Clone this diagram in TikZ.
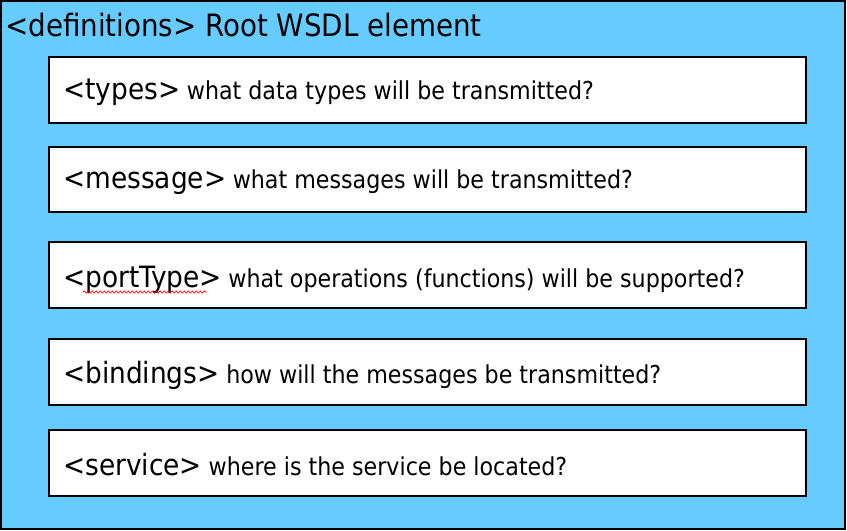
\documentclass[tikz,border=0pt]{standalone}
\usepackage{fontspec}
\setmainfont{DejaVu Sans Condensed}
\usetikzlibrary{decorations.pathmorphing}
\definecolor{wsdlblue}{HTML}{66CCFF}
\newcommand\qsz{\hspace{5pt}\fontsize{18.5}{21}\selectfont}
\begin{document}
\begin{tikzpicture}[x=0.75pt,y=-0.75pt,
  outerbox/.style={draw=black,line width=1.5pt,fill=wsdlblue},
  innerbox/.style={draw=black,line width=1.5pt,fill=white},
  titletext/.style={anchor=base west,inner sep=0pt,font=\fontsize{23.1}{26}\selectfont},
  tagtext/.style={anchor=base west,inner sep=0pt,font=\fontsize{22}{25}\selectfont}]
\useasboundingbox (0,0) rectangle (847,531);
\path[outerbox] (1,1) rectangle (845,529);
\node[titletext] (title) at (5,37) {<definitions> Root WSDL element};
\path[innerbox] (49,57) rectangle (806,123);
\path[innerbox] (49,147) rectangle (806,212);
\path[innerbox] (49,242) rectangle (806,308);
\path[innerbox] (49,339) rectangle (806,405);
\path[innerbox] (49,430) rectangle (806,496);
\node[tagtext] (types) at (63,100) {<types>{\qsz what data types will be transmitted?}};
\node[tagtext] (message) at (63,189) {<message>{\qsz what messages will be transmitted?}};
\node[tagtext] (porttype) at (63,287) {<portType>{\qsz what operations (functions) will be supported?}};
\node[tagtext] (bindings) at (63,383) {<bindings>{\qsz how will the messages be transmitted?}};
\node[tagtext] (service) at (63,475) {<service>{\qsz where is the service be located?}};
\draw[red,line width=0.5pt,decorate,decoration={snake,amplitude=0.8,segment length=3}] (83,292) -- (207,292);
\end{tikzpicture}
\end{document}
